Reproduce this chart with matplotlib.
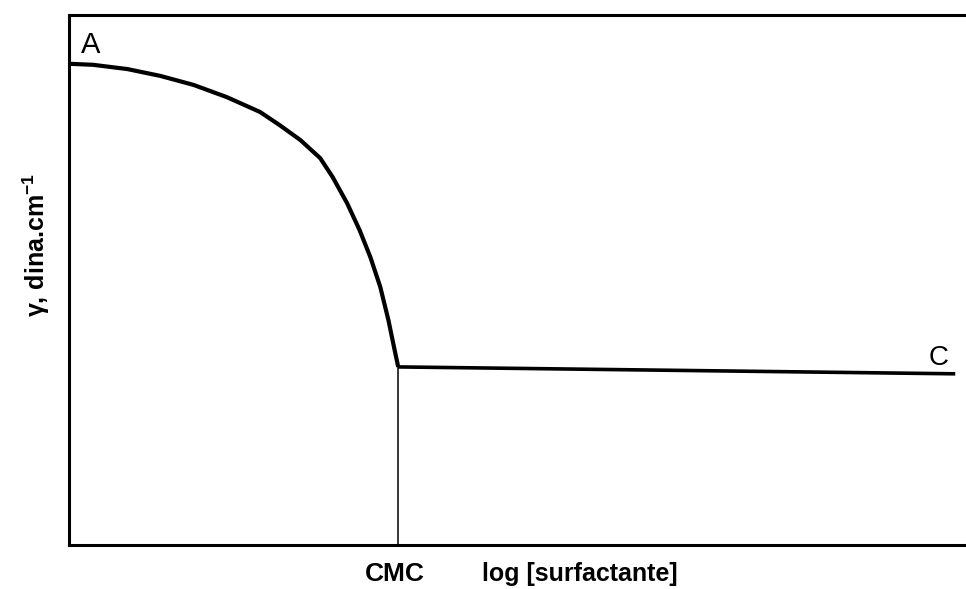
import matplotlib
matplotlib.use("Agg")
import matplotlib.pyplot as plt

plt.rcParams['font.family'] = ['Liberation Sans', 'DejaVu Sans']
plt.rcParams['mathtext.fontset'] = 'custom'
plt.rcParams['mathtext.rm'] = 'Liberation Sans'
plt.rcParams['mathtext.bf'] = 'Liberation Sans:bold'

# Surface tension vs. log concentration (arbitrary units)
curve_x = [0.00, 0.27, 0.65, 1.02, 1.39, 1.76, 2.13, 2.35, 2.58, 2.80,
           2.94, 3.10, 3.24, 3.36, 3.47, 3.56, 3.63, 3.67]
curve_y = [9.08, 9.06, 8.98, 8.85, 8.68, 8.45, 8.17, 7.92, 7.64, 7.30,
           6.94, 6.45, 5.94, 5.43, 4.87, 4.25, 3.68, 3.36]
plateau_x = [3.67, 9.88]
plateau_y = [3.36, 3.23]
cmc_x = 3.67

W, H = 966, 589
fig = plt.figure(figsize=(W / 100, H / 100), dpi=100)
ax = fig.add_axes([69 / W, 1 - 545 / H, 907 / W, 530 / H])
ax.set_xlim(0, 907 / 89.7)
ax.set_ylim(0, 10)

ax.plot(curve_x, curve_y, color='black', lw=3.0, solid_capstyle='butt',
        solid_joinstyle='round')
ax.plot(plateau_x, plateau_y, color='black', lw=2.6, solid_capstyle='butt')
ax.plot([cmc_x, cmc_x], [0, plateau_y[0]], color='black', lw=1.1)

for s in ['left', 'top', 'bottom']:
    ax.spines[s].set_linewidth(2.2)
ax.spines['right'].set_visible(False)
ax.set_xticks([])
ax.set_yticks([])

ax.text(0.13, 9.28, 'A', fontsize=21, ha='left', va='baseline')
ax.text(9.58, 3.40, 'C', fontsize=20, ha='left', va='baseline')

ax.text(cmc_x - 0.04, -0.32, 'CMC', fontsize=19, fontweight='bold',
        ha='center', va='top')
ax.text(4.60, -0.32, 'log [surfactante]', fontsize=18, fontweight='bold',
        ha='left', va='top')
ax.text(-0.37, 5.66, r'γ, dina.cm$^{\mathbf{-1}}$', fontsize=18,
        fontweight='bold', ha='center', va='center', rotation=90)

fig.savefig('out.png', dpi=100)
